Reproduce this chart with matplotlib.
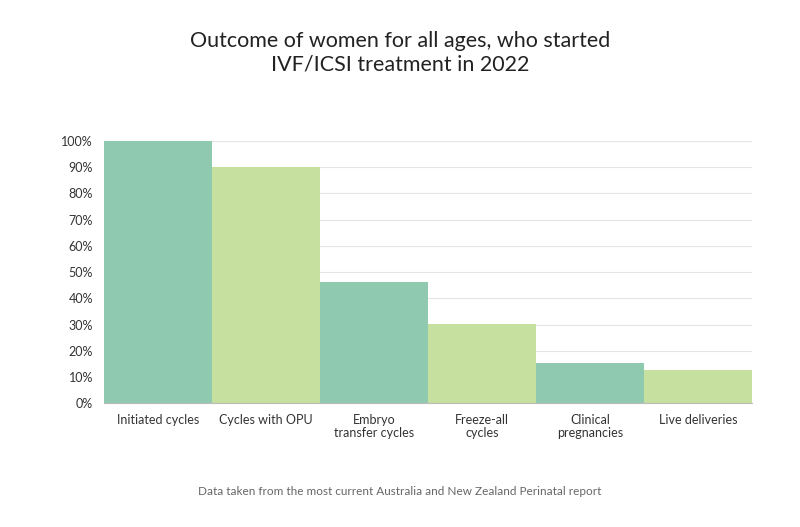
import numpy as np
import matplotlib.pyplot as plt

categories = ["Initiated cycles", "Cycles with OPU", "Embryo\ntransfer cycles",
              "Freeze-all\ncycles", "Clinical\npregnancies", "Live deliveries"]
values = [100, 90, 46.2, 30.2, 15.2, 12.6]
colors = ["#8fcab0", "#c6e0a0", "#8fcab0", "#c6e0a0", "#8fcab0", "#c6e0a0"]
yticks = np.arange(0, 101, 10)

plt.rcParams["font.family"] = "Lato"
fig = plt.figure(figsize=(8, 5.27), dpi=100)
ax = fig.add_axes([0.13, 0.235, 0.81, 0.4975])

x = np.arange(len(categories))
ax.bar(x, values, width=1.0, color=colors, zorder=2)
ax.set_xlim(-0.5, len(categories) - 0.5)
ax.set_ylim(0, 100)
ax.set_yticks(yticks)
ax.set_yticklabels([f"{v}%" for v in yticks], fontsize=9, color="#333333")
ax.set_xticks(x)
ax.set_xticklabels(categories, fontsize=9, color="#333333", linespacing=1.1)
ax.tick_params(length=0, pad=8)
ax.grid(axis="y", color="#e4e4e4", linewidth=0.8, zorder=0)
for s in ["top", "right", "left"]:
    ax.spines[s].set_visible(False)
ax.spines["bottom"].set_color("#bbbbbb")

fig.text(0.5, 0.90, "Outcome of women for all ages, who started\nIVF/ICSI treatment in 2022",
         ha="center", va="center", fontsize=15.5, color="#222222", linespacing=1.2)
fig.text(0.5, 0.067, "Data taken from the most current Australia and New Zealand Perinatal report",
         ha="center", va="center", fontsize=8.5, color="#666666")

fig.savefig("out.png", dpi=100)
